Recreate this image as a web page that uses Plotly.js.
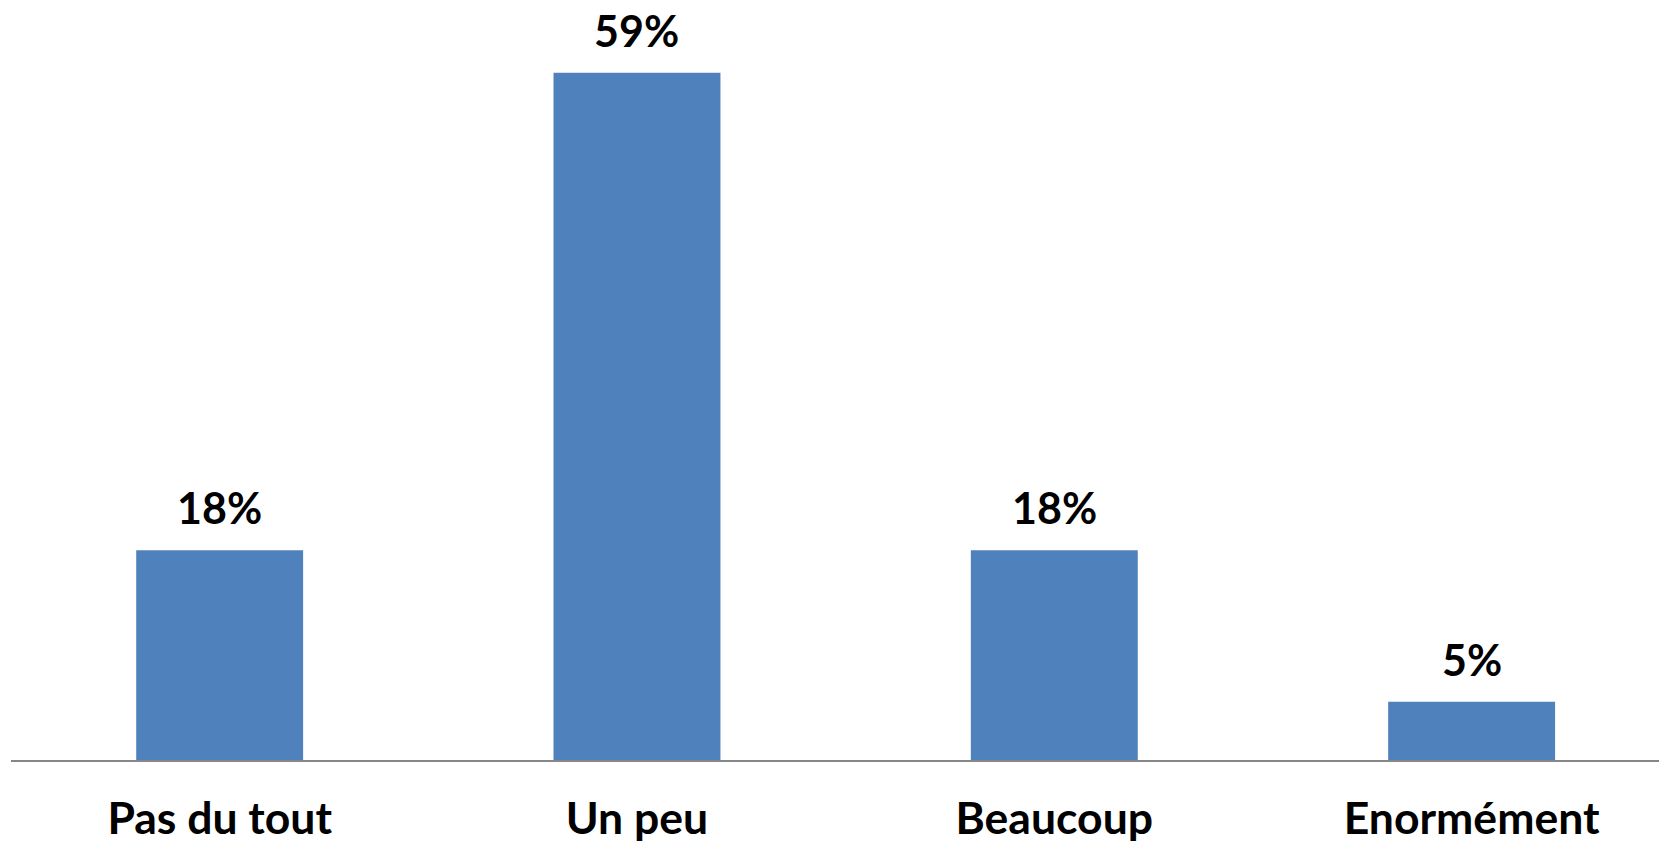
<!DOCTYPE html>
<html>
<head>
<meta charset="utf-8">
<script src="https://cdn.plot.ly/plotly-3.0.1.min.js"></script>
<style>html,body{margin:0;padding:0;background:#fff;}#chart{width:1659px;height:845px;}</style>
</head>
<body>
<div id="chart"></div>
<script>
const categories = ["Pas du tout", "Un peu", "Beaucoup", "Enormément"];
const values = [18, 59, 18, 5];
const valueLabels = ["18%", "59%", "18%", "5%"];

const FONT = "Lato, 'Open Sans', sans-serif";

const trace = {
  type: "bar",
  x: categories,
  y: values,
  marker: {color: "#4F81BD"},
  hoverinfo: "skip"
};

const annotations = categories.map((c, i) => ({
  x: c, y: values[i], xref: "x", yref: "y",
  text: "<b>" + valueLabels[i] + "</b>",
  showarrow: false, yanchor: "bottom", yshift: 15,
  font: {family: FONT, size: 43, color: "#000"}
}));

const layout = {
  width: 1659, height: 845,
  margin: {l: 11, r: 0, t: 0, b: 85},
  paper_bgcolor: "#ffffff", plot_bgcolor: "#ffffff",
  bargap: 0.6,
  showlegend: false,
  xaxis: {
    type: "category",
    range: [-0.5, 3.449],
    showline: true, linecolor: "#868686", linewidth: 2,
    showgrid: false, zeroline: false,
    ticks: "outside", ticklen: 19, tickcolor: "rgba(0,0,0,0)",
    tickfont: {family: FONT, size: 44.5, color: "#000", weight: "bold"}
  },
  yaxis: {
    range: [0, 65.24],
    visible: false, showgrid: false, zeroline: false
  },
  annotations: annotations
};

Plotly.newPlot("chart", [trace], layout, {displayModeBar: false, staticPlot: true});
</script>
</body>
</html>
